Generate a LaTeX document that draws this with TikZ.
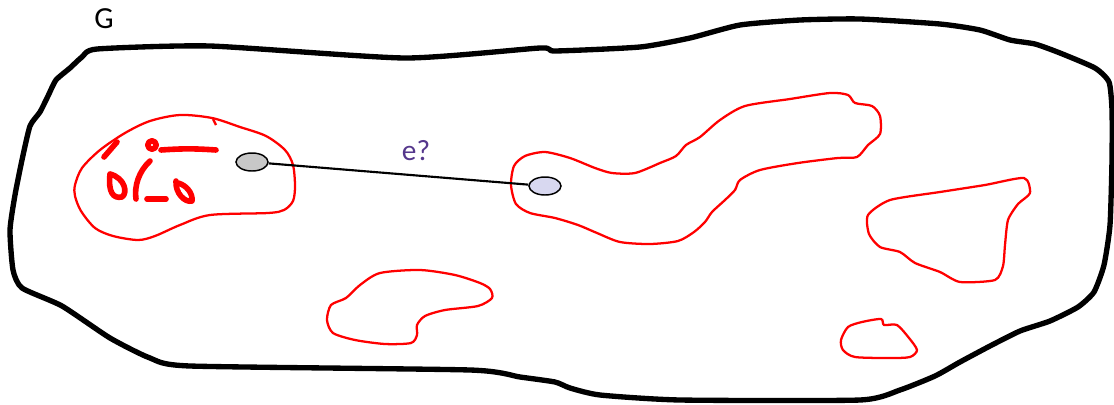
\documentclass[tikz,border=0pt]{standalone}
\usepackage{fontspec}
\setmainfont{Carlito}
\usetikzlibrary{shapes.geometric}

\definecolor{vgrey}{RGB}{200,200,200}
\definecolor{vlav}{RGB}{216,216,240}
\definecolor{lblpurple}{RGB}{85,55,140}

\begin{document}
\begin{tikzpicture}[x=0.75pt, y=-0.75pt]
        % Styles for the outline, the components and the two end vertices
        \tikzset{
            g_outline/.style={draw, line width=4pt, line join=round},
            comp/.style={draw=red, line width=1.7pt, line join=round},
            scrib/.style={draw=red, line width=4.2pt, line cap=round, line join=round},
            vtx/.style={draw, ellipse, line width=1.1pt, minimum width=24pt, minimum height=13.5pt, inner sep=0pt}
        }
        \useasboundingbox (0,0) rectangle (1114,404);

        % The graph G
        \draw[g_outline] plot[smooth cycle, tension=0.35] coordinates {
            (70,68) (82,57) (97,49) (210,46) (405,58) (540,48) (555,51) (640,47)
            (690,38) (740,25) (800,20) (860,19) (940,24) (980,30) (1010,40)
            (1035,44) (1060,53) (1095,68) (1109,82) (1112,110) (1112,160)
            (1110,225) (1104,265) (1094,292) (1078,307) (1050,321) (1020,331)
            (990,346) (960,362) (935,376) (900,390) (860,400) (680,400) (600,395)
            (570,388) (555,382) (520,377) (470,370) (190,366) (150,358) (110,338)
            (62,306) (22,288) (13,270) (10,230) (15,195) (22,160) (30,126)
            (40,112) (48,96) (56,80)};
        \node[font=\fontsize{23}{26}\selectfont, anchor=center] (glbl) at (104,19) {G};

        % Component on the left, with the scribbles inside
        \draw[comp] plot[smooth cycle, tension=0.5] coordinates {
            (75,185) (82,168) (100,150) (125,133) (150,121) (180,115) (212,118)
            (240,127) (266,136) (285,150) (293,165) (295,186) (293,201) (284,210)
            (268,213) (210,215) (180,225) (155,236) (138,240) (113,236) (95,228)
            (81,211) (75,196)};
        \draw[scrib] (104,157) -- (117,142);
        \draw[scrib] (152,145) circle (4.2);
        \draw[scrib] (161,150) to[bend left=4] (216,150);
        \draw[scrib] (110,174) .. controls (108,192) and (113,199) .. (122,197)
                               .. controls (128,193) and (125,178) .. (110,174);
        \draw[scrib] (150,161) .. controls (139,171) and (134,186) .. (136,199);
        \draw[scrib] (147,199) -- (166,199);
        \draw[scrib] (176,181) .. controls (175,193) and (185,203) .. (192,201)
                               .. controls (193,193) and (186,185) .. (178,183);
        \draw[comp] (213,119) -- (216,125);

        % Middle component
        \draw[comp] plot[smooth cycle, tension=0.45] coordinates {
            (511,185) (514,166) (525,156) (545,152) (570,158) (595,168) (612,173)
            (635,173) (660,163) (676,156) (686,145) (700,137) (720,120) (745,106)
            (790,99) (830,93) (848,95) (855,103) (872,106) (880,116) (880,134)
            (868,145) (857,157) (838,158) (798,163) (760,170) (740,180) (735,190)
            (725,200) (712,212) (705,222) (694,232) (678,241) (650,244) (620,242)
            (597,233) (578,225) (555,218) (530,213) (516,204)};

        % Right component
        \draw[comp] plot[smooth cycle, tension=0.4] coordinates {
            (868,215) (890,200) (940,192) (985,185) (1024,178) (1030,193)
            (1018,204) (1008,220) (1005,245) (1003,266) (995,280) (960,282)
            (940,272) (915,263) (900,252) (880,247) (869,234)};

        % Lower components
        \draw[comp] plot[smooth cycle, tension=0.45] coordinates {
            (327,320) (331,305) (346,298) (360,285) (380,273) (420,270) (455,275)
            (480,283) (490,289) (492,298) (478,306) (445,310) (425,316) (417,325)
            (417,335) (411,343) (385,344) (355,340) (333,333)};
        \draw[comp] plot[smooth cycle, tension=0.45] coordinates {
            (841,340) (848,327) (862,322) (881,319) (884,325) (897,325) (909,338)
            (917,350) (910,357) (890,358) (855,357) (843,350)};

        % The two end vertices and the candidate edge
        \node[vtx, fill=vgrey] (u) at (252,162) {};
        \node[vtx, fill=vlav] (v) at (545,186) {};
        \draw[line width=1.6pt] (u) -- (v);
        \node[text=lblpurple, font=\fontsize{22}{26}\selectfont] (elbl) at (416,151) {e?};
\end{tikzpicture}
\end{document}
